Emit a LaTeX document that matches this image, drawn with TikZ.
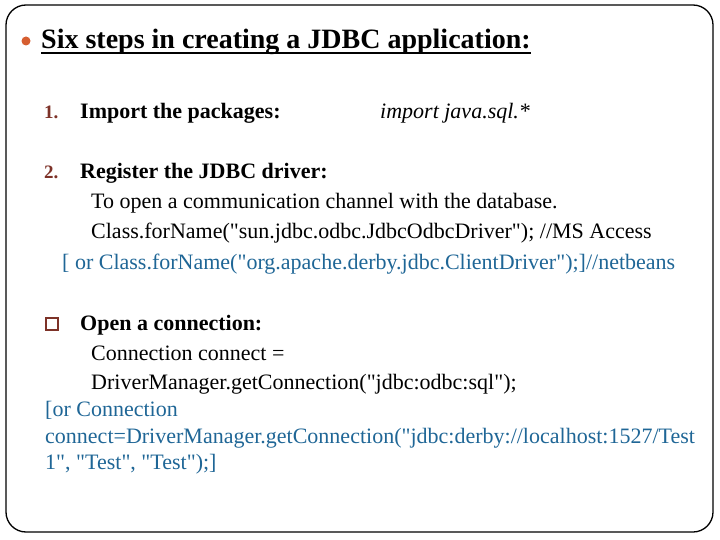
\documentclass[tikz,border=0pt]{standalone}
\usepackage{fontspec}
\setmainfont{Liberation Serif}[Ligatures=TeXOff]
\usetikzlibrary{calc}

\definecolor{bulletorange}{RGB}{214,94,48}
\definecolor{numbrown}{RGB}{125,50,40}
\definecolor{altblue}{RGB}{31,102,150}

\begin{document}
\begin{tikzpicture}
     [x=1pt,y=-1pt,
      % Styles
        line text/.style={anchor=base west,inner sep=0pt,font=\fontsize{22}{26}\selectfont},
        step head/.style={line text,font=\fontsize{22}{26}\selectfont\bfseries},
        step number/.style={line text,text=numbrown,font=\fontsize{19}{22}\selectfont\bfseries},
        alt text/.style={line text,text=altblue},
        title text/.style={line text,font=\fontsize{28}{32}\selectfont\bfseries}]
    \useasboundingbox (0,0) rectangle (720,540);
    % slide frame
    \draw[line width=1.3pt, rounded corners=20pt] (6,5) rectangle (713,532);

    % title
    \fill[bulletorange] (26,41) circle (4.5);
    \node[title text] (title) at (41,49) {Six steps in creating a JDBC application:};
    \draw[line width=1.6pt] ($(title.base west)+(0,4)$) -- ($(title.base east)+(0,4)$);

    % step 1
    \node[step number] (num1) at (44,119) {1.};
    \node[step head] (head1) at (80,119) {Import the packages:};
    \node[line text, font=\fontsize{22}{26}\selectfont\itshape] (pkgcode) at (380,119) {import java.sql.*};

    % step 2
    \node[step number] (num2) at (44,179) {2.};
    \node[step head] (head2) at (80,179) {Register the JDBC driver:};
    \node[line text] (drvtext) at (91,209) {To open a communication channel with the database.};
    \node[line text] (drvcode) at (91,239) {Class.forName("sun.jdbc.odbc.JdbcOdbcDriver"); //MS Access};
    \node[alt text] (drvalt) at (62,269) {[ or Class.forName("org.apache.derby.jdbc.ClientDriver");]//netbeans};

    % open a connection
    \node[draw=numbrown, line width=1.3pt, minimum size=12pt, inner sep=0pt] (box) at (52,324) {};
    \node[step head] (head3) at (80,330) {Open a connection:};
    \node[line text] (concode1) at (91,360) {Connection connect =};
    \node[line text] (concode2) at (91,389) {DriverManager.getConnection("jdbc:odbc:sql");};
    \node[alt text] (conalt1) at (45,416) {[or Connection};
    \node[alt text] (conalt2) at (45,443) {connect=DriverManager.getConnection("jdbc:derby://localhost:1527/Test};
    \node[alt text] (conalt3) at (45,469) {1", "Test", "Test");]};
  \end{tikzpicture}
\end{document}
